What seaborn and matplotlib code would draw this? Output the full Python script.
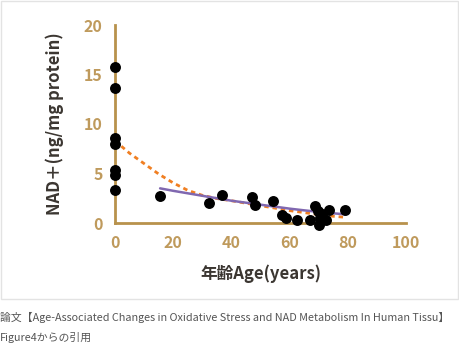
import matplotlib
matplotlib.use("Agg")
import matplotlib.pyplot as plt
import seaborn as sns
import pandas as pd
from matplotlib.patches import Rectangle

# ---- data ----
age = [0, 0, 0, 0, 0, 0, 0,
       15.4, 32.3, 36.9, 47.1, 48.2, 54.3, 57.4, 58.9, 62.5, 66.9,
       68.9, 69.7, 70.0, 70.6, 71.2, 72.6, 73.4, 79.1]
nad = [15.8, 13.6, 8.55, 8.0, 5.35, 4.85, 3.33,
       2.68, 2.02, 2.85, 2.62, 1.85, 2.18, 0.77, 0.5, 0.33, 0.33,
       1.74, 1.17, -0.17, 0.5, 0.9, 0.33, 1.27, 1.34]

fit_orange_x = [0, 5, 10, 15, 20, 25, 30, 35, 40, 45, 50, 55, 60, 65, 70, 75, 79]
fit_orange_y = [8.3, 7.05, 6.0, 4.95, 4.05, 3.3, 2.8, 2.47, 2.25, 2.0, 1.75,
                1.5, 1.25, 1.05, 0.85, 0.68, 0.58]

fit_purple_x = [15.5, 20, 25, 30, 35, 40, 45, 50, 55, 60, 65, 70, 75, 79]
fit_purple_y = [3.5, 3.25, 3.0, 2.75, 2.5, 2.25, 2.05, 1.85, 1.65, 1.45,
                1.28, 1.12, 0.98, 0.88]

x_ticks = [0, 20, 40, 60, 80, 100]
y_ticks = [0, 5, 10, 15, 20]
x_label = "年齢Age(years)"
y_label = "NAD＋(ng/mg protein)"
caption1 = "論文【Age-Associated Changes in Oxidative Stress and NAD Metabolism In Human Tissu】"
caption2 = "Figure4からの引用"

sns.set_theme(style="white")
plt.rcParams['font.family'] = ['Noto Sans CJK JP', 'DejaVu Sans']

gold = "#b8924c"
tick_col = "#bf9a5c"
dark = "#3b3631"

fig = plt.figure(figsize=(4.6, 3.44), dpi=100)
fig.patch.set_facecolor("white")
# card border
fig.add_artist(Rectangle((0.5 / 460, 1 - 298.5 / 344), 457.5 / 460, 298 / 344,
                         transform=fig.transFigure, fill=False,
                         edgecolor="#e3e3e3", linewidth=1.0))

ax = fig.add_axes([115 / 460, 1 - 223 / 344, (406 - 115) / 460, (223 - 25) / 344])
ax.set_facecolor("none")

df_pts = pd.DataFrame({"age": age, "nad": nad})
df_or = pd.DataFrame({"x": fit_orange_x, "y": fit_orange_y})
df_pu = pd.DataFrame({"x": fit_purple_x, "y": fit_purple_y})

sns.lineplot(data=df_or, x="x", y="y", ax=ax, color="#f07f22", linewidth=2.0,
             linestyle=(0, (1.6, 1.4)), zorder=3)
sns.lineplot(data=df_pu, x="x", y="y", ax=ax, color="#8068b0", linewidth=1.8,
             zorder=3)
sns.scatterplot(data=df_pts, x="age", y="nad", ax=ax, color="black", s=62,
                edgecolor="black", linewidth=0, zorder=5, clip_on=False)

ax.set_xlim(0, 100)
ax.set_ylim(0, 20)
ax.set_xticks(x_ticks)
ax.set_yticks(y_ticks)
for s in ["top", "right"]:
    ax.spines[s].set_visible(False)
for s in ["left", "bottom"]:
    ax.spines[s].set_color(gold)
    ax.spines[s].set_linewidth(2.0)
ax.tick_params(axis="both", which="major", direction="out", length=5, width=2,
               color=gold, labelcolor=tick_col, labelsize=11.5, pad=4)
for lab in ax.get_xticklabels() + ax.get_yticklabels():
    lab.set_fontweight("bold")

ax.set_xlabel(x_label, fontsize=12, fontweight="bold", color=dark, labelpad=9)
ax.set_ylabel(y_label, fontsize=12, fontweight="bold", color=dark, labelpad=14)

fig.text(0.0, 1 - 317.5 / 344, caption1, fontsize=7.8, color="#555555",
         va="center", ha="left")
fig.text(0.0, 1 - 337.5 / 344, caption2, fontsize=7.8, color="#555555",
         va="center", ha="left")

fig.savefig("out.png", dpi=100)
